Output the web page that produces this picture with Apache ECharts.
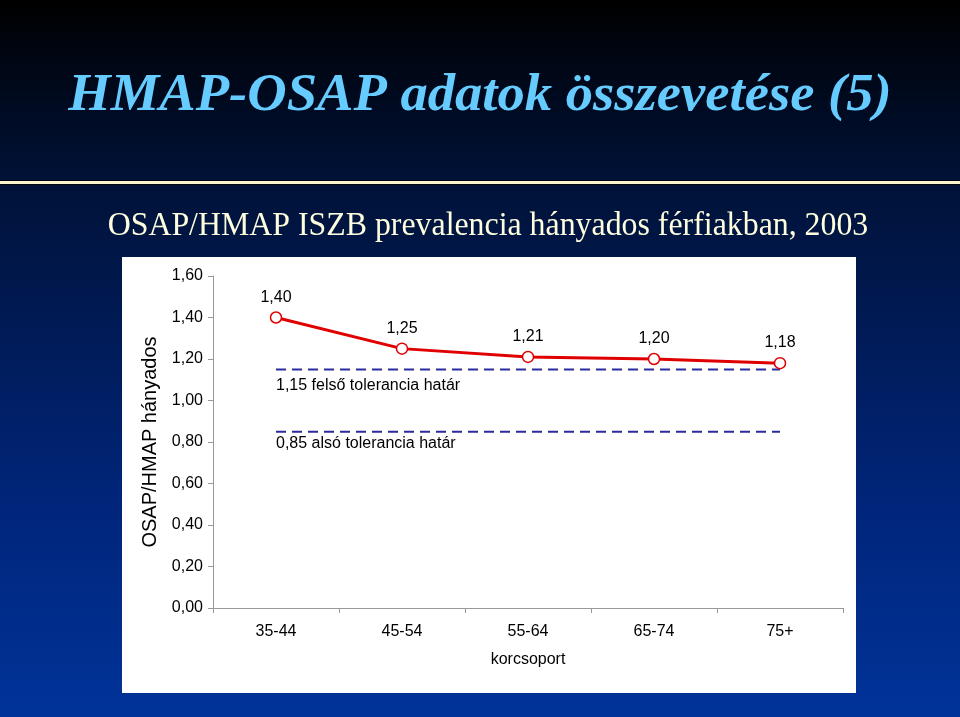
<!DOCTYPE html>
<html><head><meta charset="utf-8">
<script src="https://cdn.jsdelivr.net/npm/echarts@6/dist/echarts.min.js"></script>
<style>html,body{margin:0;padding:0;}#c{width:960px;height:717px;}</style>
</head><body><div id="c"></div>
<script>
var categories = ['35-44', '45-54', '55-64', '65-74', '75+'];
var ratioValues = [1.40, 1.25, 1.21, 1.20, 1.18];
var upperLimit = [1.15, 1.15, 1.15, 1.15, 1.15];
var lowerLimit = [0.85, 0.85, 0.85, 0.85, 0.85];
var upperLabel = '1,15 felső tolerancia határ';
var lowerLabel = '0,85 alsó tolerancia határ';
var titleText = 'HMAP-OSAP adatok összevetése (5)';
var subtitleText = 'OSAP/HMAP ISZB prevalencia hányados férfiakban, 2003';
var yAxisName = 'OSAP/HMAP hányados';
var xAxisName = 'korcsoport';

function fmt(v) { return Number(v).toFixed(2).replace('.', ','); }

function limitData(arr, label, dist) {
  return arr.map(function (v, i) {
    if (i === 0) {
      return { value: v, label: { show: true, formatter: label, position: 'bottom', align: 'left', distance: dist,
        fontFamily: 'Liberation Sans, Arial', fontSize: 16, color: '#000' } };
    }
    return v;
  });
}

var chart = echarts.init(document.getElementById('c'), null, { renderer: 'canvas' });
chart.setOption({
  animation: false,
  backgroundColor: '#001a4d',
  graphic: [
    { type: 'rect', z: -10, shape: { x: 0, y: 0, width: 960, height: 180 },
      style: { fill: new echarts.graphic.LinearGradient(0, 0, 0, 1, [{ offset: 0, color: '#000000' }, { offset: 1, color: '#001238' }]) } },
    { type: 'rect', z: -10, shape: { x: 0, y: 180, width: 960, height: 1 }, style: { fill: '#000814' } },
    { type: 'rect', z: -10, shape: { x: 0, y: 181, width: 960, height: 3 }, style: { fill: '#fbf6d0' } },
    { type: 'rect', z: -10, shape: { x: 0, y: 184, width: 960, height: 1 }, style: { fill: '#000814' } },
    { type: 'rect', z: -10, shape: { x: 0, y: 185, width: 960, height: 532 },
      style: { fill: new echarts.graphic.LinearGradient(0, 0, 0, 1, [{ offset: 0, color: '#001238' }, { offset: 0.6, color: '#00257a' }, { offset: 1, color: '#003399' }]) } },
    { type: 'rect', z: -9, shape: { x: 122, y: 257, width: 734, height: 436 }, style: { fill: '#ffffff' } },
    { type: 'text', z: 10, x: 480, y: 97, scaleX: 1.05, scaleY: 1,
      style: { text: titleText, fill: '#66ccff', font: 'italic bold 52px "Liberation Serif", "Times New Roman", serif',
        textAlign: 'center', textVerticalAlign: 'middle', textShadowColor: '#6a6255', textShadowOffsetX: 3, textShadowOffsetY: 3, textShadowBlur: 0 } },
    { type: 'text', z: 10, x: 488, y: 226, scaleX: 0.965, scaleY: 1,
      style: { text: subtitleText, fill: '#ffffe0', font: '33px "Liberation Serif", "Times New Roman", serif',
        textAlign: 'center', textVerticalAlign: 'middle', textShadowColor: '#000a20', textShadowOffsetX: 2, textShadowOffsetY: 2, textShadowBlur: 0 } }
  ],
  grid: { left: 213, top: 276, right: 117, bottom: 109, containLabel: false },
  xAxis: {
    type: 'category', data: categories, boundaryGap: true,
    name: xAxisName, nameLocation: 'middle', nameGap: 44,
    nameTextStyle: { fontFamily: 'Liberation Sans, Arial', fontSize: 16, color: '#000', verticalAlign: 'top' },
    axisLine: { lineStyle: { color: '#999', width: 1 } },
    axisTick: { show: true, alignWithLabel: false, length: 5, lineStyle: { color: '#999' } },
    axisLabel: { fontFamily: 'Liberation Sans, Arial', fontSize: 16, color: '#000', margin: 16 },
    splitLine: { show: false }
  },
  yAxis: {
    type: 'value', min: 0, max: 1.6, interval: 0.2,
    name: yAxisName, nameLocation: 'middle', nameGap: 50, nameRotate: 90,
    nameTextStyle: { fontFamily: 'Liberation Sans, Arial', fontSize: 20, color: '#000' },
    axisLine: { show: true, lineStyle: { color: '#999', width: 1 } },
    axisTick: { show: true, length: 5, lineStyle: { color: '#999' } },
    axisLabel: { fontFamily: 'Liberation Sans, Arial', fontSize: 16, color: '#000', margin: 10, formatter: fmt },
    splitLine: { show: false }
  },
  series: [
    { type: 'line', data: limitData(upperLimit, upperLabel, 8), symbol: 'circle', symbolSize: 1, z: 2,
      itemStyle: { color: 'rgba(0,0,0,0)' },
      lineStyle: { color: '#2b2ba0', width: 2, type: [10, 6] } },
    { type: 'line', data: limitData(lowerLimit, lowerLabel, 3), symbol: 'circle', symbolSize: 1, z: 2,
      itemStyle: { color: 'rgba(0,0,0,0)' },
      lineStyle: { color: '#2b2ba0', width: 2, type: [10, 6] } },
    { type: 'line', data: ratioValues, symbol: 'circle', symbolSize: 11, z: 5,
      lineStyle: { color: '#e00000', width: 3 },
      itemStyle: { color: '#ffffff', borderColor: '#e00000', borderWidth: 1.5 },
      label: { show: true, position: 'top', distance: 6, formatter: function (p) { return fmt(p.value); },
        fontFamily: 'Liberation Sans, Arial', fontSize: 16, color: '#000' } }
  ]
});
</script></body></html>
